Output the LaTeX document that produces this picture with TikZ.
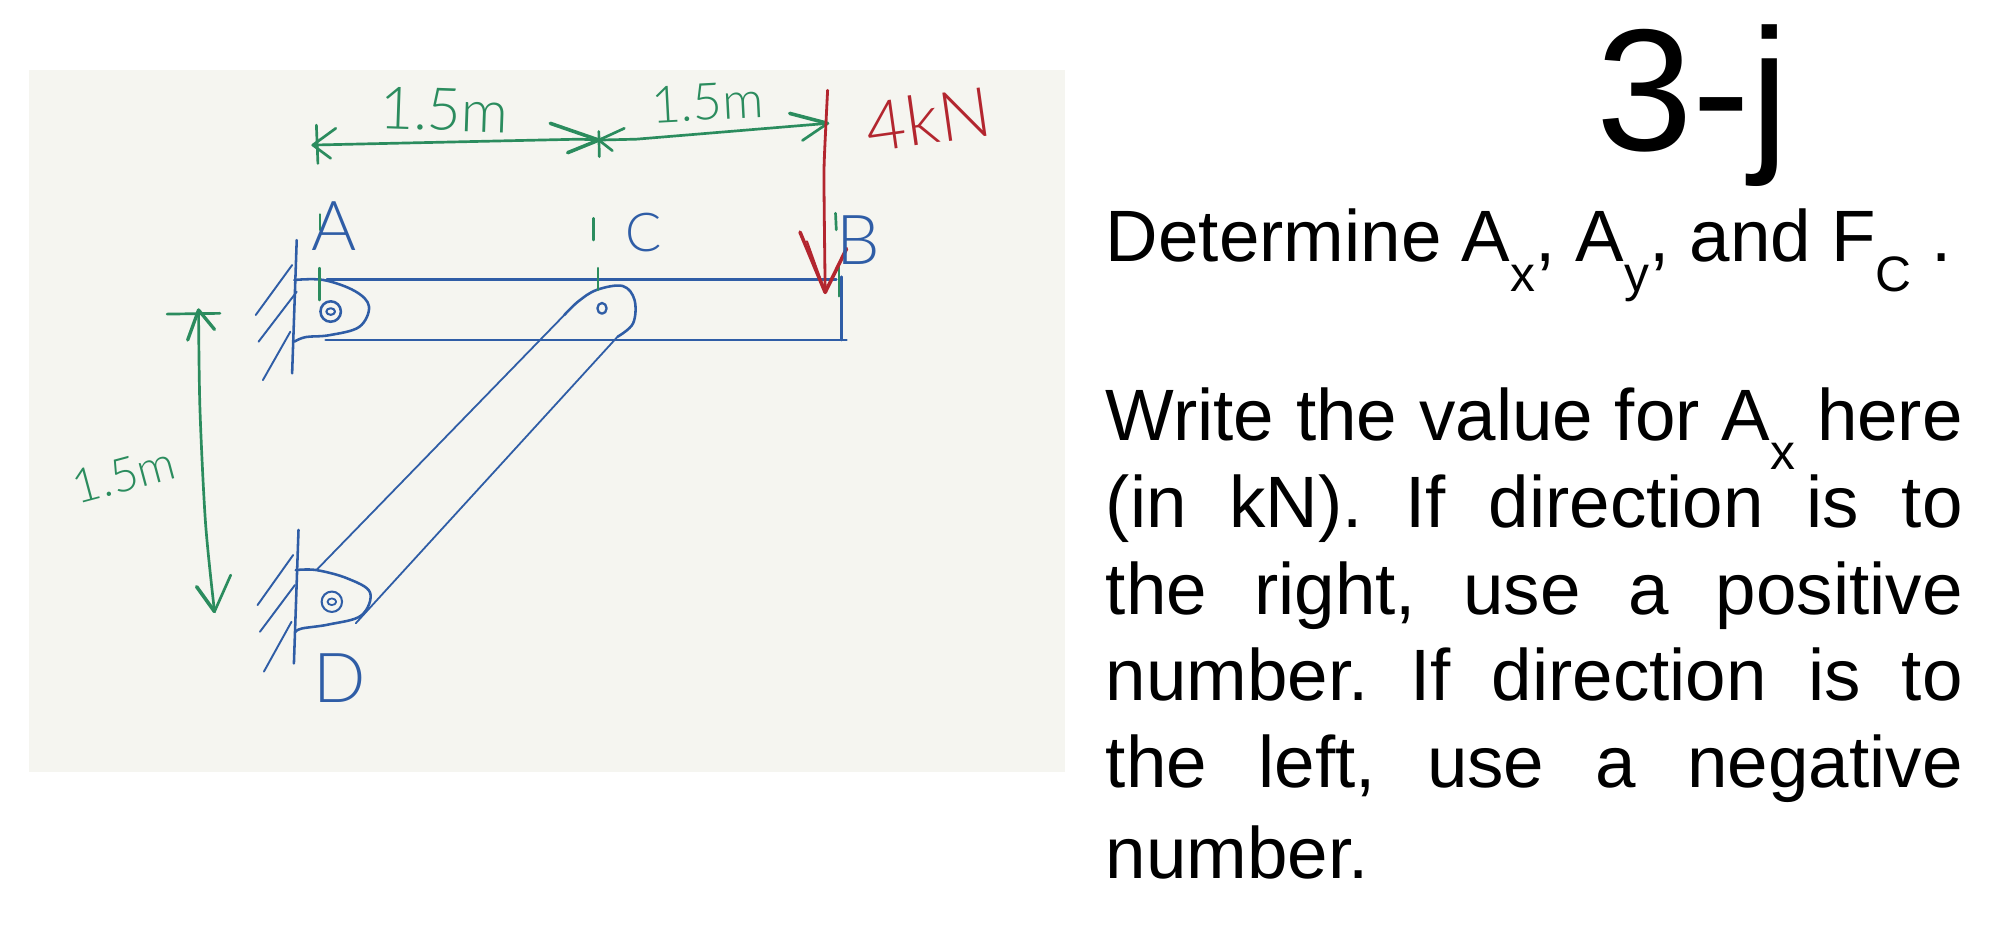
\documentclass[tikz,border=0pt]{standalone}
\usepackage{fontspec}
\setmainfont{Liberation Sans}
\newfontfamily\handfont{Lato Light}
\definecolor{paper}{HTML}{F5F5F0}
\definecolor{inkgreen}{HTML}{2B8C5E}
\definecolor{inkblue}{HTML}{2F5DA6}
\definecolor{inkred}{HTML}{B3262F}
\newcommand{\fsz}[1]{\fontsize{#1pt}{#1pt}\selectfont}
\newcommand{\sbs}[1]{{\fsz{39}\raisebox{-23pt}{#1}}}
\tikzset{
  x=1pt,y=-1pt,
  grn/.style={draw=inkgreen,line width=2.1pt,line cap=round,line join=round},
  blu/.style={draw=inkblue,line width=2pt,line cap=round,line join=round},
  thinblu/.style={draw=inkblue,line width=1.4pt,line cap=round},
  redink/.style={draw=inkred,line width=2.2pt,line cap=round,line join=round},
  hand/.style={inner sep=0pt,font=\handfont},
  body/.style={anchor=base west,inner sep=0pt,font=\fsz{57}},
}
\begin{document}
\begin{tikzpicture}
\useasboundingbox (0,0) rectangle (1568,731.5);
\fill[paper] (23,55) rectangle (834,605);

% named anchor points
\coordinate (dimA) at (245,113.6);
\coordinate (dimC) at (469,109.7);
\coordinate (dimB) at (648.2,96.6);
\coordinate (dimT) at (155.5,242.8);
\coordinate (dimD) at (168,479);
\coordinate (loadS) at (648.2,70.7);
\coordinate (loadE) at (646.3,229);

% beam
\draw[blu] (256,218.8) -- (655,218.8);
\draw[blu] (255,266.3) -- (663,266.3);
\draw[blu] (659,216.7) -- (659,266.3);

% wall A
\draw[blu] (232.4,188) -- (228.8,292.4);
\draw[blu,line width=1.5pt] (228.8,207.6) -- (200.3,246.7);
\draw[blu,line width=1.5pt] (232.4,228.5) -- (202.5,267.6);
\draw[blu,line width=1.5pt] (227.4,259.8) -- (205.9,297.7);
% lug A
\draw[blu] plot[smooth,tension=0.6] coordinates {(230.5,219.3) (253.4,219.3) (278,228) (289,240) (281.4,256) (258,262.5) (239.4,264) (230.5,267.6)};
\draw[blu] (259,244) circle[x radius=8pt,y radius=8pt];
\draw[blu,line width=1.6pt] (259,244) circle[x radius=3.4pt,y radius=2.6pt];

% lug C and link
\draw[blu] plot[smooth,tension=0.6] coordinates {(442,246.7) (453,236) (467.5,227) (487.7,224) (497,235) (495.8,253.3) (483.7,263.7)};
\draw[blu,line width=1.8pt] (471.5,241.5) circle[x radius=3.6pt,y radius=4.2pt];
\draw[thinblu] (442,246.7) -- (247.8,446.5);
\draw[thinblu] (483.7,263.7) -- (278.6,488.2);

% wall D
\draw[blu] (233.8,415) -- (230.2,519.6);
\draw[blu,line width=1.5pt] (229.6,434.7) -- (201.7,473.9);
\draw[blu,line width=1.5pt] (231,458.2) -- (203.6,494.8);
\draw[blu,line width=1.5pt] (228.3,487) -- (206.7,526);
% lug D
\draw[blu] plot[smooth,tension=0.6] coordinates {(231.6,446.5) (247.8,446.5) (272,453) (289.8,464) (283,482) (258,489) (236.6,492.2) (231.6,494.8)};
\draw[blu,line width=1.6pt] (259.9,471.3) circle[x radius=8pt,y radius=8pt];
\draw[blu,line width=1.4pt] (259.9,471.3) circle[x radius=3.4pt,y radius=2.6pt];

% horizontal dimensions
\draw[grn] (dimA) -- (454,109) -- (dimC);
\draw[grn] (263,100.5) -- (dimA) -- (259,124);
\draw[grn] (247.8,98) -- (249,128);
\draw[grn,line width=2.8pt] (431,96.6) -- (dimC) -- (444.6,119.6);
\draw[grn] (469,103) -- (469.4,122.7);
\draw[grn] (489,100.5) -- (dimC) -- (479.6,118);
\draw[grn] (dimC) -- (498.5,109) -- (dimB);
\draw[grn,line width=2.8pt] (618.5,88.8) -- (dimB);
\draw[grn] (628.5,110) -- (dimB);

% vertical dimension
\draw[grn] (130.9,246) -- (172.3,245.4);
\draw[grn,line width=2.6pt] (147,266.3) -- (dimT) -- (168,258);
\draw[grn] plot[smooth,tension=0.5] coordinates {(dimT) (156.6,320) (161,410) (dimD)};
\draw[grn,line width=2.8pt] (154,459.5) -- (dimD);
\draw[grn] (180.7,450.4) -- (dimD);

% green construction ticks
\draw[grn] (250.6,168) -- (250.6,180);
\draw[grn] (250,210) -- (250,235);
\draw[grn] (464.8,171) -- (464.8,188);
\draw[grn] (468.3,210) -- (468.3,227);
\draw[grn] (654.4,167) -- (655,180);
\draw[grn] (657,206) -- (657,232);

% load
\draw[redink] plot[smooth,tension=0.5] coordinates {(loadS) (645.5,128) (645.5,160) (loadE)};
\draw[redink,line width=2.8pt] (626.6,181.8) -- (loadE) -- (663,194.8);
\draw[redink,line width=1.6pt] (632,189) -- (loadE);

% handwritten labels
\node[hand,text=inkgreen,rotate=-2] (lab1) at (348,86) {\fsz{46}1.5m};
\node[hand,text=inkgreen,rotate=3] (lab2) at (554,80) {\fsz{40}1.5m};
\node[hand,text=inkgreen,rotate=15] (lab3) at (97,372) {\fsz{37}1.5m};
\node[hand,text=inkred,rotate=8] (lab4) at (727,93) {\fsz{54}4kN};
\node[hand,text=inkblue] (lA) at (262,177) {\fsz{54}A};
\node[hand,text=inkblue] (lC) at (504,182) {\fsz{42}C};
\node[hand,text=inkblue] (lB) at (672,188) {\fsz{54}B};
\node[hand,text=inkblue] (lD) at (266,531) {\fsz{54}D};

% right-hand text
\node[anchor=base west,inner sep=0pt,font=\fsz{136}] (title) at (1250,118) {3-j};
\node[body] (t0) at (866,205) {Determine A\sbs{x}, A\sbs{y}, and F\sbs{C} .};
\node[body] (t1) at (866,345) {\hbox to 671pt{Write\hfill the\hfill value\hfill for\hfill A\sbs{x}\hfill here}};
\node[body] (t2) at (866,413) {\hbox to 671pt{(in\hfill kN).\hfill If\hfill direction\hfill is\hfill to}};
\node[body] (t3) at (866,481) {\hbox to 671pt{the\hfill right,\hfill use\hfill a\hfill positive}};
\node[body] (t4) at (866,549) {\hbox to 671pt{number.\hfill If\hfill direction\hfill is\hfill to}};
\node[body] (t5) at (866,617) {\hbox to 671pt{the\hfill left,\hfill use\hfill a\hfill negative}};
\node[body] (t6) at (866,688) {number.};
\end{tikzpicture}
\end{document}
